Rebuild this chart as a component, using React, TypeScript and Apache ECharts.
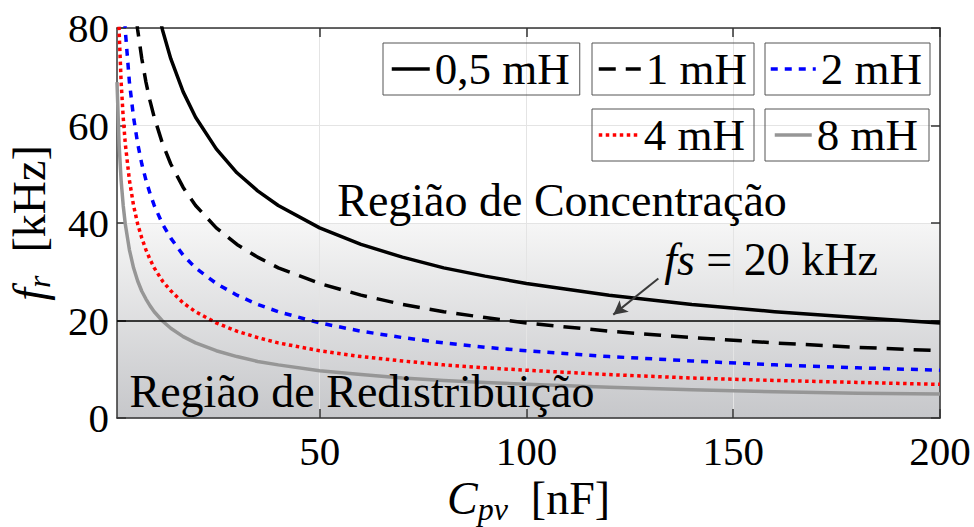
import React, { useEffect, useRef } from 'react';
import * as echarts from 'echarts';

// Capacitance Cpv [nF] sample points
const C_NF = [1, 1.5, 2, 2.5, 3, 4, 5, 6, 7, 8, 9, 10, 12, 14, 17, 20, 25, 30, 35, 40, 50, 60, 70, 80, 90, 100, 120, 140, 160, 180, 200];

// Resonant frequency fr [kHz], for each inductance
const FR_05MH = [null, null, null, null, null, null, null, null, null, null, null, 87.2, 79.6, 73.7, 66.9, 61.7, 55.2, 50.3, 46.6, 43.6, 39.0, 35.6, 33.0, 30.8, 29.1, 27.6, 25.2, 23.3, 21.8, 20.6, 19.5];
const FR_1MH = [null, null, null, null, null, null, 87.2, 79.6, 73.7, 68.9, 65.0, 61.7, 56.3, 52.1, 47.3, 43.6, 39.0, 35.6, 33.0, 30.8, 27.6, 25.2, 23.3, 21.8, 20.6, 19.5, 17.8, 16.5, 15.4, 14.5, 13.8];
const FR_2MH = [null, null, null, 87.2, 79.6, 68.9, 61.7, 56.3, 52.1, 48.8, 46.0, 43.6, 39.8, 36.9, 33.4, 30.8, 27.6, 25.2, 23.3, 21.8, 19.5, 17.8, 16.5, 15.4, 14.5, 13.8, 12.6, 11.7, 10.9, 10.3, 9.8];
const FR_4MH = [97.5, 79.6, 68.9, 61.7, 56.3, 48.8, 43.6, 39.8, 36.9, 34.5, 32.5, 30.8, 28.1, 26.1, 23.6, 21.8, 19.5, 17.8, 16.5, 15.4, 13.8, 12.6, 11.7, 10.9, 10.3, 9.8, 8.9, 8.2, 7.7, 7.3, 6.9];
const FR_8MH = [68.9, 56.3, 48.7, 43.6, 39.8, 34.5, 30.8, 28.1, 26.0, 24.4, 23.0, 21.8, 19.9, 18.4, 16.7, 15.4, 13.8, 12.6, 11.6, 10.9, 9.7, 8.9, 8.2, 7.7, 7.3, 6.9, 6.3, 5.8, 5.4, 5.1, 4.9];

const SERIES_NAMES = ['0,5 mH', '1 mH', '2 mH', '4 mH', '8 mH'];
const X_TICKS = [50, 100, 150, 200];
const X_MIN = 1;
const X_MAX = 200;
const Y_MIN = 0;
const Y_MAX = 80;
const Y_STEP = 20;
const FS_KHZ = 20;
const REGION_TOP_KHZ = 40;

const FONT = "'Liberation Serif', 'DejaVu Serif', serif";

const pairs = (ys: (number | null)[]) => C_NF.map((c, i) => [c, ys[i]]);

export default function App() {
  const ref = useRef<HTMLDivElement>(null);

  useEffect(() => {
    if (!ref.current) return;
    const chart = echarts.init(ref.current, undefined, { renderer: 'svg' });

    const axisColor = '#333333';
    const gridColor = '#e4e4e4';

    const lineSeries = (name: string, ys: (number | null)[], color: string, type: any) => ({
      name,
      type: 'line',
      data: pairs(ys),
      symbol: 'none',
      showSymbol: false,
      smooth: false,
      clip: true,
      z: 3,
      itemStyle: { color },
      lineStyle: { color, width: 3.5, type, cap: 'butt', join: 'round' },
    });

    const legendBase = (name: string, left: number, top: number, itemWidth: number, padding: number[]) => ({
      data: [name],
      left,
      top,
      orient: 'horizontal',
      itemWidth,
      itemHeight: 14,
      padding,
      borderColor: '#555',
      borderWidth: 1,
      borderRadius: 0,
      selectedMode: false,
      itemStyle: { color: 'rgba(0,0,0,0)', borderWidth: 0 },
      lineStyle: { width: 3.5 },
      textStyle: { fontFamily: FONT, fontSize: 45, color: '#000', lineHeight: 46 },
    });

    const nameRich = {
      i: { fontFamily: FONT, fontSize: 46, fontStyle: 'italic', color: '#000', lineHeight: 52 },
      s: { fontFamily: FONT, fontSize: 32, fontStyle: 'italic', color: '#000', lineHeight: 34, verticalAlign: 'bottom' },
      n: { fontFamily: FONT, fontSize: 46, color: '#000', lineHeight: 52 },
    };

    const option: any = {
      animation: false,
      backgroundColor: '#ffffff',
      grid: { left: 117, right: 34, top: 28, bottom: 109, containLabel: false, outerBoundsMode: 'none' },
      legend: [
        legendBase(SERIES_NAMES[0], 383, 43, 38, [3, 10, 3, 7]),
        legendBase(SERIES_NAMES[1], 592, 43, 42, [3, 7, 3, 5]),
        legendBase(SERIES_NAMES[2], 765, 43, 45, [3, 8, 3, 4]),
        legendBase(SERIES_NAMES[3], 592, 109, 40, [3, 9, 3, 5]),
        legendBase(SERIES_NAMES[4], 765, 109, 37, [3, 11, 3, 8]),
      ],
      xAxis: [
        {
          type: 'value',
          min: X_MIN,
          max: X_MAX,
          position: 'bottom',
          z: 1,
          name: '{i|C}{s|pv}{n|  [nF]}',
          nameLocation: 'middle',
          nameGap: 36,
          nameTextStyle: { fontFamily: FONT, fontSize: 45, color: '#000', rich: nameRich },
          axisLine: { show: true, onZero: false, lineStyle: { color: axisColor, width: 1.5 } },
          axisTick: { show: true, inside: true, length: 9, customValues: X_TICKS, lineStyle: { color: axisColor, width: 1.5 } },
          axisLabel: { customValues: X_TICKS, fontFamily: FONT, fontSize: 41, color: '#000', margin: 12 },
          splitLine: { show: true, lineStyle: { color: gridColor, width: 1 } },
        },
        {
          type: 'value',
          min: X_MIN,
          max: X_MAX,
          position: 'top',
          z: 1,
          axisLine: { show: true, onZero: false, lineStyle: { color: axisColor, width: 1.5 } },
          axisTick: { show: true, inside: true, length: 9, customValues: X_TICKS, lineStyle: { color: axisColor, width: 1.5 } },
          axisLabel: { show: false },
          splitLine: { show: false },
        },
      ],
      yAxis: [
        {
          type: 'value',
          min: Y_MIN,
          max: Y_MAX,
          interval: Y_STEP,
          position: 'left',
          z: 1,
          name: '{i|f}{s|r}{n|  [kHz]}',
          nameLocation: 'middle',
          nameGap: 62,
          nameRotate: 90,
          nameTextStyle: { fontFamily: FONT, fontSize: 45, color: '#000', rich: nameRich },
          axisLine: { show: true, onZero: false, lineStyle: { color: axisColor, width: 1.5 } },
          axisTick: { show: true, inside: true, length: 9, lineStyle: { color: axisColor, width: 1.5 } },
          axisLabel: { fontFamily: FONT, fontSize: 41, color: '#000', margin: 8 },
          splitLine: { show: true, lineStyle: { color: gridColor, width: 1 } },
        },
        {
          type: 'value',
          min: Y_MIN,
          max: Y_MAX,
          interval: Y_STEP,
          position: 'right',
          z: 1,
          axisLine: { show: true, onZero: false, lineStyle: { color: axisColor, width: 1.5 } },
          axisTick: { show: true, inside: true, length: 9, lineStyle: { color: axisColor, width: 1.5 } },
          axisLabel: { show: false },
          splitLine: { show: false },
        },
      ],
      series: [
        {
          name: 'regions',
          type: 'line',
          data: [],
          silent: true,
          markArea: {
            silent: true,
            z: 0,
            itemStyle: {
              color: new echarts.graphic.LinearGradient(0, 0, 0, 1, [
                { offset: 0, color: '#f6f6f6' },
                { offset: 1, color: '#c6c7ca' },
              ]),
            },
            data: [[{ yAxis: Y_MIN }, { yAxis: REGION_TOP_KHZ }]],
          },
          markLine: {
            silent: true,
            symbol: ['none', 'none'],
            label: { show: false },
            lineStyle: { color: '#000', width: 1.5, type: 'solid' },
            data: [{ yAxis: FS_KHZ }],
          },
        },
        {
          name: 'arrow',
          type: 'line',
          data: [],
          silent: true,
          markLine: {
            silent: true,
            z: 6,
            symbol: ['none', 'arrow'],
            symbolSize: [11, 14],
            label: { show: false },
            lineStyle: { color: '#3a3a3a', width: 2, type: 'solid' },
            data: [[{ coord: [131.9, 28.6] }, { coord: [121.0, 21.2] }]],
          },
        },
        lineSeries(SERIES_NAMES[0], FR_05MH, '#000000', 'solid'),
        lineSeries(SERIES_NAMES[1], FR_1MH, '#000000', [17, 10]),
        lineSeries(SERIES_NAMES[2], FR_2MH, '#0000ff', [7, 7]),
        lineSeries(SERIES_NAMES[3], FR_4MH, '#ff0000', [3.5, 3.5]),
        lineSeries(SERIES_NAMES[4], FR_8MH, '#969696', 'solid'),
      ],
      graphic: [
        {
          type: 'text',
          x: 562,
          y: 200,
          z: 100,
          silent: true,
          style: { text: 'Região de Concentração', fontFamily: FONT, fontSize: 46, fill: '#000', align: 'center', verticalAlign: 'middle' },
        },
        {
          type: 'text',
          x: 362,
          y: 391,
          z: 100,
          silent: true,
          style: { text: 'Região de Redistribuição', fontFamily: FONT, fontSize: 46, fill: '#000', align: 'center', verticalAlign: 'middle' },
        },
        {
          type: 'text',
          x: 771,
          y: 259,
          z: 100,
          silent: true,
          style: {
            text: '{i|fs} = 20 kHz',
            fontFamily: FONT,
            fontSize: 46,
            fill: '#000',
            align: 'center',
            verticalAlign: 'middle',
            rich: { i: { fontFamily: FONT, fontSize: 46, fontStyle: 'italic', fill: '#000' } },
          },
        },
      ],
    };

    chart.setOption(option);
    return () => chart.dispose();
  }, []);

  return <div ref={ref} style={{ position: 'fixed', left: 0, top: 0, width: 974, height: 527 }} />;
}
